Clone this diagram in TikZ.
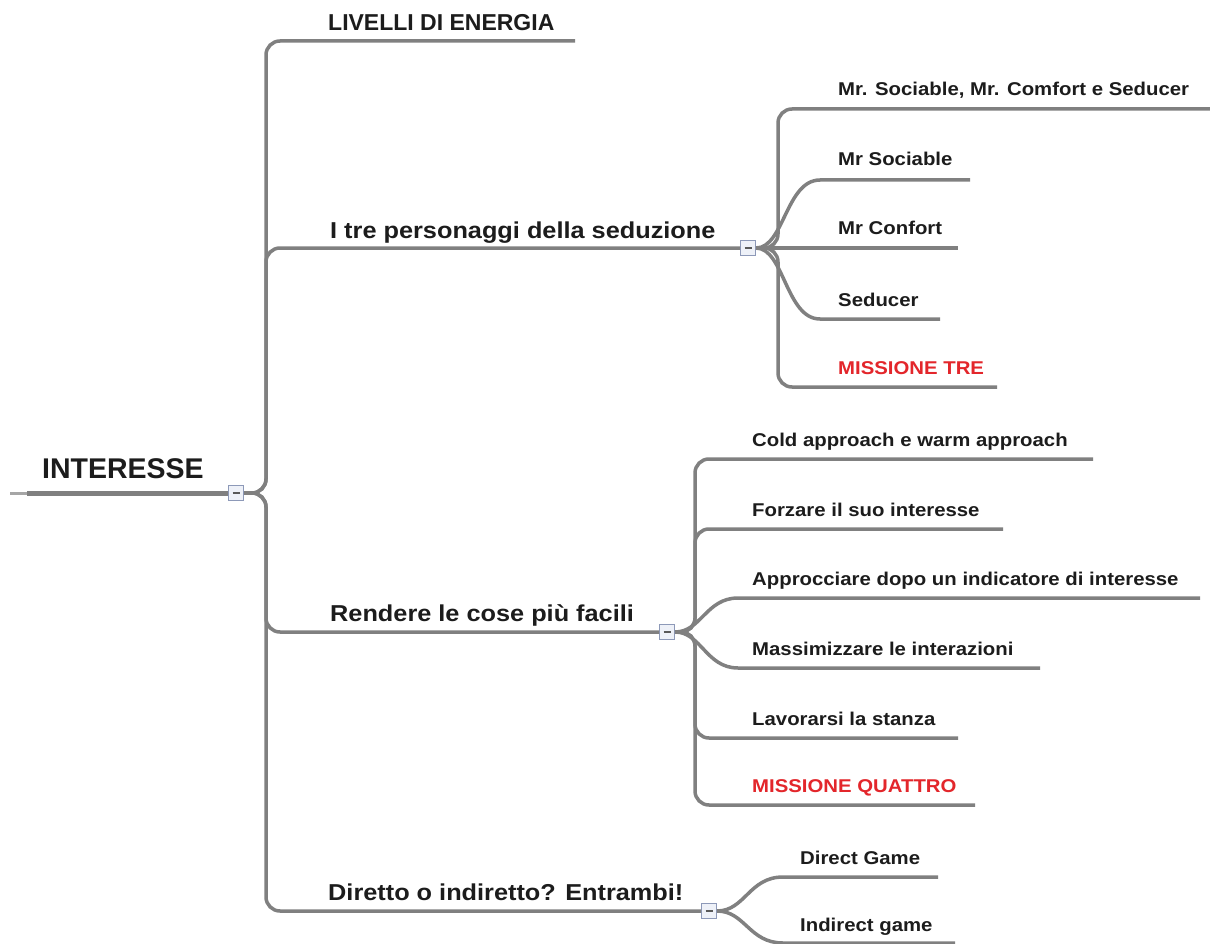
\documentclass[tikz,border=0pt]{standalone}
\usepackage{fontspec}
\setmainfont{Liberation Sans}
\newfontfamily\capsfont{Liberation Sans}
\newfontfamily\wfont[FakeStretch=1.1]{Liberation Sans}
\definecolor{lnc}{HTML}{808080}
\definecolor{txc}{HTML}{1C1C1C}
\definecolor{redc}{HTML}{E3262B}
\definecolor{boxf}{HTML}{EEF1F8}
\definecolor{boxd}{HTML}{8D99B8}
\tikzset{
  branch/.style={draw=lnc, line width=3.5pt, rounded corners=14pt},
  sbranch/.style={draw=lnc, line width=3.5pt},
  rootln/.style={draw=lnc, line width=5pt},
  stubln/.style={draw=lnc!70, line width=3pt},
  cbox/.style={draw=boxd, fill=boxf, line width=1pt, minimum size=15pt, inner sep=0pt,
    path picture={\draw[line width=1.2pt, black!65] ([xshift=-3.5pt]path picture bounding box.center) -- ([xshift=3.5pt]path picture bounding box.center);}},
  roottext/.style={anchor=base west, inner sep=0pt, text=txc, font={\capsfont\bfseries\fontsize{28.5}{32}\selectfont}},
  captext/.style={anchor=base west, inner sep=0pt, text=txc, font={\capsfont\bfseries\fontsize{23}{27}\selectfont}},
  ptext/.style={anchor=base west, inner sep=0pt, text=txc, font={\wfont\bfseries\fontsize{23}{27}\selectfont}},
  ctext/.style={anchor=base west, inner sep=0pt, text=txc, font={\wfont\bfseries\fontsize{18.5}{22}\selectfont}},
  rtext/.style={ctext, text=redc}
}
\begin{document}
\begin{tikzpicture}[x=1pt,y=-1pt]
\useasboundingbox (0,0) rectangle (1210,944);
\fill[white] (0,0) rectangle (1210,944);
\clip (0,0) rectangle (1210,944);

% collapse boxes
\node[cbox] (rbox) at (236,493) {};
\node[cbox] (bA) at (748,248) {};
\node[cbox] (bB) at (667,632) {};
\node[cbox] (bC) at (709,911) {};

% end coordinates
\coordinate (rootT) at (10,493);
\coordinate (rootS) at (27,493);
\coordinate (livE) at (575,41);
\coordinate (c1E) at (1212,109);
\coordinate (c2W) at (820,180);
\coordinate (c2E) at (970,180);
\coordinate (c3E) at (958,248);
\coordinate (c4W) at (820,319);
\coordinate (c4E) at (940,319);
\coordinate (c5E) at (997,387);
\coordinate (d1E) at (1093,459);
\coordinate (d2E) at (1003,529);
\coordinate (d3W) at (738,598);
\coordinate (d3E) at (1200,598);
\coordinate (d4W) at (738,668);
\coordinate (d4E) at (1040,668);
\coordinate (d5E) at (958,738);
\coordinate (d6E) at (975,805);
\coordinate (e1W) at (783,877);
\coordinate (e1E) at (938,877);
\coordinate (e2W) at (783,943);
\coordinate (e2E) at (955,943);

% texts
\node[roottext] (tRoot) at (42,478) {INTERESSE};
\node[captext] (tLiv) at (328,31) {LIVELLI DI ENERGIA};
\node[ptext] (tTre) at (330,238) {I tre personaggi della seduzione};
\node[ptext] (tRen) at (330,621) {Rendere le cose più facili};
\node[ptext] (tDir) at (328,900) {Diretto o indiretto? Entrambi!};

\node[ctext] (a1) at (838,96) {Mr. Sociable, Mr. Comfort e Seducer};
\node[ctext] (a2) at (838,166) {Mr Sociable};
\node[ctext] (a3) at (838,235) {Mr Confort};
\node[ctext] (a4) at (838,306) {Seducer};
\node[rtext] (a5) at (838,374) {MISSIONE TRE};

\node[ctext] (b1) at (752,446) {Cold approach e warm approach};
\node[ctext] (b2) at (752,516) {Forzare il suo interesse};
\node[ctext] (b3) at (752,585) {Approcciare dopo un indicatore di interesse};
\node[ctext] (b4) at (752,655) {Massimizzare le interazioni};
\node[ctext] (b5) at (752,725) {Lavorarsi la stanza};
\node[rtext] (b6) at (752,792) {MISSIONE QUATTRO};

\node[ctext] (e1) at (800,864) {Direct Game};
\node[ctext] (e2) at (800,931) {Indirect game};

% root
\draw[stubln] (rootT) -- (rootS);
\draw[rootln] (rootS) -- (rbox.west);
\draw[branch] (rbox.east) -- ++(22,0) |- (livE);
\draw[branch] (rbox.east) -- ++(22,0) |- (bA.west);
\draw[branch] (rbox.east) -- ++(22,0) |- (bB.west);
\draw[branch] (rbox.east) -- ++(22,0) |- (bC.west);

% I tre personaggi
\draw[branch] (bA.east) -- ++(22,0) |- (c1E);
\draw[sbranch] (bA.east) .. controls +(28,0) and +(-34,0) .. (c2W) -- (c2E);
\draw[sbranch] (bA.east) -- (c3E);
\draw[sbranch] (bA.east) .. controls +(28,0) and +(-34,0) .. (c4W) -- (c4E);
\draw[branch] (bA.east) -- ++(22,0) |- (c5E);

% Rendere
\draw[branch] (bB.east) -- ++(20,0) |- (d1E);
\draw[branch] (bB.east) -- ++(20,0) |- (d2E);
\draw[sbranch] (bB.east) .. controls +(26,0) and +(-32,0) .. (d3W) -- (d3E);
\draw[sbranch] (bB.east) .. controls +(26,0) and +(-32,0) .. (d4W) -- (d4E);
\draw[branch] (bB.east) -- ++(20,0) |- (d5E);
\draw[branch] (bB.east) -- ++(20,0) |- (d6E);

% Diretto
\draw[sbranch] (bC.east) .. controls +(28,0) and +(-34,0) .. (e1W) -- (e1E);
\draw[sbranch] (bC.east) .. controls +(28,0) and +(-34,0) .. (e2W) -- (e2E);
\end{tikzpicture}
\end{document}
